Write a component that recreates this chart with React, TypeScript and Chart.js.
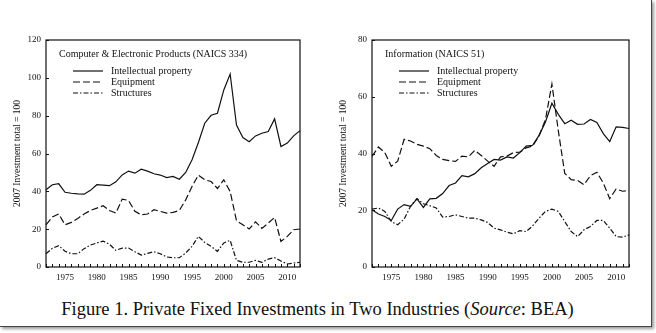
import React, { useEffect, useRef } from 'react';
import { Chart, registerables } from 'chart.js';
Chart.register(...registerables);

const years = [
  1972, 1973, 1974, 1975, 1976, 1977, 1978, 1979, 1980, 1981,
  1982, 1983, 1984, 1985, 1986, 1987, 1988, 1989, 1990, 1991,
  1992, 1993, 1994, 1995, 1996, 1997, 1998, 1999, 2000, 2001,
  2002, 2003, 2004, 2005, 2006, 2007, 2008, 2009, 2010, 2011, 2012,
];

// Computer & Electronic Products (NAICS 334)
const compIP = [
  40.8, 43.5, 44, 39.5, 39, 38.7, 38.5, 40.5, 43.5, 43.3,
  43, 45, 48.7, 50.7, 49.6, 51.7, 50.7, 49.3, 48.6, 47.3,
  47.9, 46.4, 50, 56.7, 65.8, 76, 80.2, 81.3, 93.6, 102,
  75, 68.4, 66.2, 69.3, 70.7, 71.6, 78.3, 63.7, 65.5, 69.3, 72.1,
];
const compEquip = [
  22.3, 26.4, 28, 22.3, 23.6, 25.7, 28, 29.9, 31.1, 32.4,
  29.9, 28.5, 35.9, 35.2, 29.4, 27.6, 28, 30.3, 29.4, 28.5,
  28.9, 29.9, 35.5, 42.6, 48.6, 46.1, 45.2, 41.5, 46.1, 39.9,
  24.5, 22.3, 20.1, 23.9, 20.4, 23.2, 26.2, 13.5, 16.2, 19.7, 20.1,
];
const compStruct = [
  7, 9.9, 11.3, 8.3, 7, 7, 9.7, 11.6, 12.7, 13.7,
  12, 8.8, 10, 10, 8.1, 6.3, 7.2, 8.1, 7, 5.3,
  4.9, 4.9, 7.4, 10.9, 16.2, 13, 10.9, 8.3, 12.7, 14.1,
  3.5, 2.5, 2.5, 3.5, 2.5, 4.2, 4.9, 3.2, 1.6, 2.1, 2.5,
];

// Information (NAICS 51)
const infoIP = [
  20.2, 18.7, 17.8, 16.4, 20.4, 22, 21.4, 24, 21, 24,
  24.2, 25.9, 28.7, 29.6, 32.2, 31.8, 32.9, 35, 36.5, 37.9,
  37.7, 38.8, 38.4, 40.3, 42.6, 42.9, 46.4, 51.1, 57.7, 53.8,
  50.5, 51.7, 50.3, 50.4, 52, 50.9, 47, 44.2, 49.4, 49.2, 48.8,
];
const infoEquip = [
  39, 42.3, 40.3, 35.5, 37.3, 45, 44.4, 43.2, 42.6, 41.7,
  39.3, 37.9, 37.5, 37.2, 39.1, 38.8, 41.1, 39.3, 37.3, 35.5,
  38.8, 39.1, 40.3, 40.5, 42, 42.6, 46.2, 52, 64.5, 48,
  33, 30.8, 30.5, 29, 32.2, 33.4, 29.6, 24.1, 27.5, 26.7, 26.9,
];
const infoStruct = [
  20.4, 20.8, 19.6, 16, 14.9, 16.9, 21.4, 24.1, 22.3, 21.6,
  20.8, 17.6, 17.8, 18.4, 17.8, 17.2, 17.2, 16.6, 15.7, 13.7,
  13.1, 12.3, 11.7, 12.8, 12.5, 14.5, 17.2, 19.6, 20.4, 19.6,
  16, 12.5, 10.7, 13.1, 14.3, 16.4, 16.4, 13.7, 10.7, 10.5, 11.3,
];

const seriesLabels = ['Intellectual property', 'Equipment', 'Structures'];
const dashes: number[][] = [[], [7, 3], [5, 2, 1.5, 2]];
const yTitle = '2007 Investment total = 100';
const caption = 'Figure 1. Private Fixed Investments in Two Industries (';

const INK = '#111';
const SERIF = '"Liberation Serif", "Times New Roman", serif';

const framePlugin = {
  id: 'frame',
  afterDraw(chart: any, _args: any, opts: any) {
    const { ctx, chartArea, scales } = chart;
    const { left, top, right, bottom } = chartArea;
    ctx.save();
    ctx.strokeStyle = INK;
    ctx.lineWidth = 1.2;
    ctx.setLineDash([]);
    ctx.strokeRect(left, top, right - left, bottom - top);
    ctx.lineWidth = 1;
    const y = scales.y;
    y.ticks.forEach((_t: any, i: number) => {
      const py = Math.round(y.getPixelForTick(i)) + 0.5;
      ctx.beginPath();
      ctx.moveTo(left, py);
      ctx.lineTo(left + 3, py);
      ctx.stroke();
    });
    const x = scales.x;
    x.ticks.forEach((_t: any, i: number) => {
      const px = Math.round(x.getPixelForTick(i)) + 0.5;
      ctx.beginPath();
      ctx.moveTo(px, bottom);
      ctx.lineTo(px, bottom - 3);
      ctx.stroke();
    });
    // inset title + legend
    ctx.fillStyle = INK;
    ctx.font = '10px ' + SERIF;
    ctx.textBaseline = 'middle';
    ctx.textAlign = 'left';
    ctx.fillText(opts.title, 59, 54);
    const rows = [71, 82, 93];
    chart.data.datasets.forEach((ds: any, i: number) => {
      ctx.lineWidth = 1.2;
      ctx.setLineDash(ds.borderDash || []);
      ctx.beginPath();
      ctx.moveTo(73, rows[i]);
      ctx.lineTo(103, rows[i]);
      ctx.stroke();
      ctx.setLineDash([]);
      ctx.fillText(ds.label, 111, rows[i]);
    });
    ctx.restore();
  },
};

function makeConfig(title: string, ymax: number, series: number[][], rightPad: number): any {
  return {
    type: 'line',
    data: {
      labels: years,
      datasets: series.map((d, i) => ({
        label: seriesLabels[i],
        data: d,
        borderColor: INK,
        borderWidth: 1.2,
        borderDash: dashes[i],
        pointRadius: 0,
        tension: 0,
        fill: false,
      })),
    },
    options: {
      animation: false,
      responsive: false,
      layout: { padding: { top: 40, right: rightPad, left: 0, bottom: 0 } },
      plugins: {
        legend: { display: false },
        tooltip: { enabled: false },
        frame: { title },
      },
      scales: {
        x: {
          type: 'category',
          grid: { display: false, drawTicks: false },
          border: { display: false },
          ticks: {
            autoSkip: false,
            maxRotation: 0,
            padding: 5,
            color: INK,
            font: { family: SERIF, size: 9 },
            callback: (_v: any, idx: number) => (years[idx] % 5 === 0 ? String(years[idx]) : ''),
          },
          afterFit: (s: any) => { s.height = 23; },
        },
        y: {
          min: 0,
          max: ymax,
          grid: { display: false, drawTicks: false },
          border: { display: false },
          ticks: {
            stepSize: 20,
            padding: 5,
            color: INK,
            font: { family: SERIF, size: 9 },
          },
          title: {
            display: true,
            text: yTitle,
            color: INK,
            font: { family: SERIF, size: 9.5 },
            padding: { top: 12, bottom: 0 },
          },
          afterFit: (s: any) => { s.width = 46; },
        },
      },
    },
    plugins: [framePlugin],
  };
}

function Panel(props: { left: number; width: number; title: string; ymax: number; series: number[][]; rightPad: number }) {
  const ref = useRef<HTMLCanvasElement | null>(null);
  useEffect(() => {
    if (!ref.current) return;
    const chart = new Chart(ref.current, makeConfig(props.title, props.ymax, props.series, props.rightPad));
    return () => chart.destroy();
  }, []);
  return (
    <canvas
      ref={ref}
      width={props.width}
      height={290}
      style={{ position: 'absolute', left: props.left, top: 0, width: props.width, height: 290 }}
    />
  );
}

export default function App() {
  return (
    <div style={{ position: 'absolute', left: 0, top: 0, width: 656, height: 333, background: '#fff', overflow: 'hidden' }}>
      <div
        style={{
          position: 'absolute', left: 0, top: 0, width: 651, height: 326,
          borderRight: '1px solid #444', borderBottom: '1px solid #444',
          boxShadow: '2px 2px 3px #999', background: '#fff',
        }}
      />
      <Panel left={0} width={320} title="Computer & Electronic Products (NAICS 334)" ymax={120} series={[compIP, compEquip, compStruct]} rightPad={20} />
      <Panel left={326} width={324} title="Information (NAICS 51)" ymax={80} series={[infoIP, infoEquip, infoStruct]} rightPad={21} />
      <div
        style={{
          position: 'absolute', left: 0, top: 298, width: 635, textAlign: 'center',
          fontFamily: SERIF, fontSize: 18.5, color: '#111', whiteSpace: 'nowrap', lineHeight: '22px',
        }}
      >
        {caption}<i>Source</i>: BEA)
      </div>
    </div>
  );
}
